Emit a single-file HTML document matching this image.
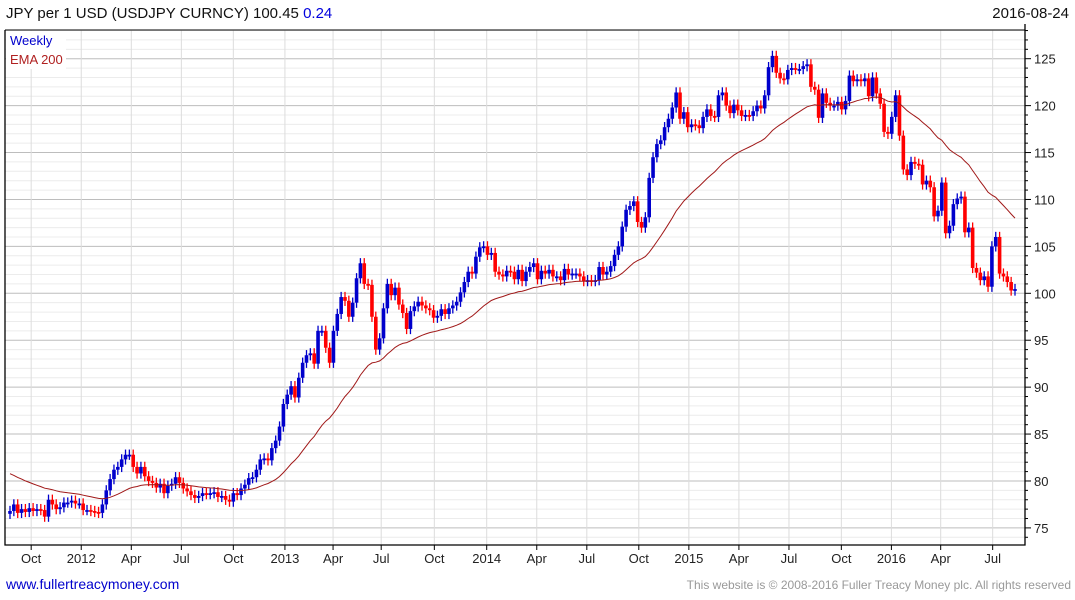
<!DOCTYPE html>
<html><head><meta charset="utf-8">
<style>
body{margin:0;background:#fff;font-family:"Liberation Sans",sans-serif;}
#wrap{position:relative;width:1075px;height:600px;overflow:hidden;}
.t{position:absolute;white-space:nowrap;}
</style></head>
<body>
<div id="wrap">
<div class="t" style="left:6px;top:5px;font-size:15px;color:#111">JPY per 1 USD (USDJPY CURNCY) 100.45 <span style="color:#0000dd">0.24</span></div>
<div class="t" style="right:6px;top:5px;font-size:15px;color:#111">2016-08-24</div>
<svg id="c" width="1075" height="600" style="position:absolute;left:0;top:0"></svg>
<div class="t" style="left:6px;top:576px;font-size:14px;color:#0000cc">www.fullertreacymoney.com</div>
<div class="t" style="right:4px;top:578px;font-size:12px;color:#999">This website is © 2008-2016 Fuller Treacy Money plc. All rights reserved</div>
</div>
<script>
const closes=[
76.8,77.5,76.6,77.0,76.7,77.1,
76.8,77.0,76.9,76.2,78.0,77.5,77.0,77.2,77.7,77.7,77.9,77.6,77.6,
76.9,76.9,76.8,76.7,76.6,77.5,79.0,80.2,81.2,81.5,82.3,82.8,82.8,
81.5,80.8,81.5,80.5,80.0,79.8,79.3,79.7,78.7,79.5,79.7,80.4,79.8,
79.2,78.9,78.5,78.2,78.4,78.7,78.6,78.7,78.8,78.3,78.4,78.0,77.8,
78.7,78.5,79.2,79.6,80.3,80.4,81.2,82.3,82.4,82.2,83.5,84.3,85.8,
88.2,89.2,90.1,88.9,91.0,92.6,93.4,93.6,92.5,96.0,96.0,94.2,92.6,
96.0,97.8,99.6,99.2,97.5,99.0,101.6,103.2,101.0,100.9,97.5,94.0,95.2,
98.4,101.0,99.8,100.6,98.8,97.9,96.2,98.1,98.6,99.1,98.7,98.4,98.2,
97.4,97.6,98.3,97.8,98.4,98.7,99.1,100.1,101.2,102.3,102.1,103.9,104.9,
105.0,104.1,104.3,102.3,102.0,101.8,102.4,102.3,101.5,102.5,101.3,102.3,102.8,
103.2,101.5,102.4,102.1,102.5,101.8,101.8,101.4,102.6,102.0,102.1,102.1,101.8,
101.3,101.4,101.3,101.4,102.8,102.0,102.3,102.9,104.1,105.0,107.1,108.9,109.3,
109.8,107.6,107.0,108.1,112.3,114.5,115.9,116.3,117.7,118.6,119.8,121.4,118.6,
119.3,117.7,118.0,117.9,117.6,118.8,119.6,118.9,118.8,121.1,121.4,120.0,119.2,
120.1,119.5,118.9,119.0,118.9,119.4,120.0,119.7,121.1,124.1,125.3,123.5,122.9,
122.8,123.8,124.0,123.9,123.9,124.2,124.4,122.0,121.7,118.7,121.3,120.3,120.0,
120.0,120.4,119.6,120.5,123.2,122.6,122.8,122.6,122.9,121.0,123.0,121.3,120.2,
117.2,117.0,118.8,121.1,116.8,113.2,112.6,114.0,113.8,113.7,111.6,112.0,111.3,
108.2,108.8,111.8,106.4,107.2,109.5,110.1,110.3,106.5,107.0,102.7,102.2,101.4,
101.8,100.7,105.0,106.0,102.1,101.8,101.2,100.3,100.45];
const yTicks=[75,80,85,90,95,100,105,110,115,120,125];
const xLabels=["Oct","2012","Apr","Jul","Oct","2013","Apr","Jul","Oct","2014","Apr","Jul","Oct","2015","Apr","Jul","Oct","2016","Apr","Jul"];
const xLabelWeeks=[5.5,18.5,31.5,44.5,58,71.4,83.9,96.4,110.2,123.8,136.8,149.8,163.3,176.3,189.3,202.3,215.9,228.9,241.7,255.2];
const emaSeed=81.0, emaPeriod=36;

const NS="http://www.w3.org/2000/svg";
const svg=document.getElementById('c');
const L=5,R=1025,T=30,B=545;
const n=closes.length;
const step=(1015-10)/(n-1);
function X(i){return 10+i*step;}
function Y(v){return 58.7+(125-v)*9.384;}
function mk(tag,a,name,parent){const e=document.createElementNS(NS,tag);for(const k in a)e.setAttribute(k,a[k]);


(parent||svg).appendChild(e);return e;}
for(let v=74;v<=128;v++){const y=Y(v);if(y<T||y>B)continue;
 mk('line',{x1:L,x2:R,y1:y,y2:y,stroke:v%5==0?'#bdbdbd':'#ececec','stroke-width':1},v%5==0?'grid-major':'grid-minor');}
xLabelWeeks.forEach((w,i)=>{const x=X(w);
 mk('line',{x1:x,x2:x,y1:T,y2:B,stroke:'#dcdcdc'},'grid-vertical');
 mk('line',{x1:x,x2:x,y1:B,y2:B+5,stroke:'#000'},'x-tick');
 const t=mk('text',{x:x,y:563,'font-size':13,'text-anchor':'middle',fill:'#222','font-family':'Liberation Sans'},'x-tick-label');t.textContent=xLabels[i];});
for(let v=74;v<=128;v++){const y=Y(v);if(y<T||y>B)continue;
 mk('line',{x1:R,x2:R+(v%5==0?6:3),y1:y,y2:y,stroke:'#000'},'y-tick');}
yTicks.forEach(v=>{const t=mk('text',{x:1034,y:Y(v)+5,'font-size':13,fill:'#222','font-family':'Liberation Sans'},'y-tick-label');t.textContent=v;});
mk('polyline',{points:`${L},${T} ${L},${B} ${R},${B} ${R},${T-6}`,fill:'none',stroke:'#000','stroke-width':1.3},'plot-frame');
mk('line',{x1:L,x2:R,y1:T,y2:T,stroke:'#000'},'plot-top-border');
const wick=0.55;
for(let i=0;i<n;i++){
 const o=i?closes[i-1]:closes[0]-0.3, c=closes[i];
 const up=c>=o, col=up?'#0000cc':'#ff0000', x=X(i);
 const hi=Math.max(o,c)+wick, lo=Math.min(o,c)-wick;
 mk('line',{x1:x,x2:x,y1:Y(hi),y2:Y(lo),stroke:col,'stroke-width':1.3},'candle-wick');
 const y1=Y(Math.max(o,c)),y2=Y(Math.min(o,c));
 mk('rect',{x:x-1.8,y:y1,width:3.6,height:Math.max(1.8,y2-y1),fill:col},up?'candle-up':'candle-down');
}
let e=emaSeed,pts=[];const a=2/(emaPeriod+1);
for(let i=0;i<n;i++){e=e+a*(closes[i]-e);pts.push(X(i).toFixed(1)+','+Y(e).toFixed(1));}
mk('polyline',{points:pts.join(' '),fill:'none',stroke:'#a01818','stroke-width':1},'ema-200-line');
mk('rect',{x:6,y:31,width:60,height:38,fill:'#fff'},'legend-box');
let t=mk('text',{x:10,y:45,'font-size':13,fill:'#0000cc','font-family':'Liberation Sans'},'legend-weekly');t.textContent='Weekly';
t=mk('text',{x:10,y:64,'font-size':13,fill:'#b02020','font-family':'Liberation Sans'},'legend-ema-200');t.textContent='EMA 200';
</script>
</body></html>
